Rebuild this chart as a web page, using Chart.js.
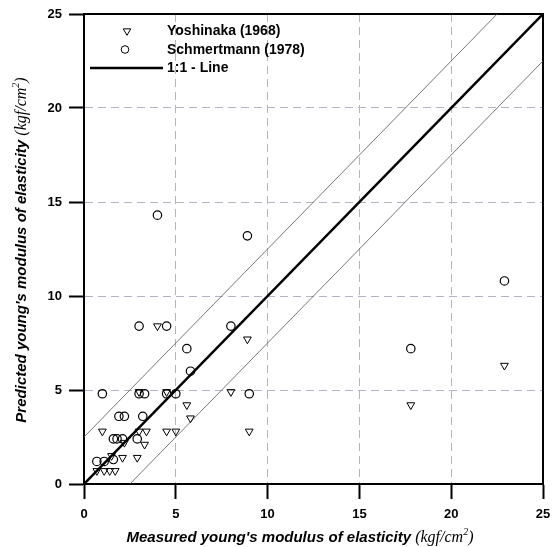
<!DOCTYPE html>
<html>
<head>
<meta charset="utf-8">
<script src="https://cdn.jsdelivr.net/npm/chart.js@4.4.0/dist/chart.umd.min.js"></script>
<style>
    body { margin: 0; background: #fff; }
    #wrap { width: 553px; height: 547px; }
</style>
</head>
<body>
<div id="wrap"><canvas id="chart" width="553" height="547"></canvas></div>
<script>
// Yoshinaka (1968) - triângulos
const yoshinakaMeasured  = [0.7, 1.1, 1.4, 1.7, 1.5, 2.1, 2.9, 2.2, 3.3, 1.0, 3.0, 3.4, 4.5, 5.0, 9.0, 5.8, 5.6, 3.0, 4.5, 8.0, 17.8, 22.9, 8.9, 4.0];
const yoshinakaPredicted = [0.7, 0.7, 0.7, 0.7, 1.5, 1.4, 1.4, 2.2, 2.1, 2.8, 2.8, 2.8, 2.8, 2.8, 2.8, 3.5, 4.2, 4.9, 4.9, 4.9, 4.2, 6.3, 7.7, 8.4];

// Schmertmann (1978) - círculos
const schmertmannMeasured  = [0.7, 1.1, 1.6, 1.6, 1.8, 2.1, 2.9, 1.9, 2.2, 3.2, 1.0, 3.0, 3.3, 4.5, 5.0, 9.0, 5.8, 5.6, 3.0, 4.5, 8.0, 8.9, 4.0, 17.8, 22.9];
const schmertmannPredicted = [1.2, 1.2, 1.3, 2.4, 2.4, 2.4, 2.4, 3.6, 3.6, 3.6, 4.8, 4.8, 4.8, 4.8, 4.8, 4.8, 6.0, 7.2, 8.4, 8.4, 8.4, 13.2, 14.3, 7.2, 10.8];

// Linha 1:1 e limites
const lineX  = [0, 25];
const lineY  = [0, 25];
const upperX = [0, 22.5];
const upperY = [2.5, 25];
const lowerX = [2.5, 25];
const lowerY = [0, 22.5];

const tickValues = [0, 5, 10, 15, 20, 25];

function toPoints(xs, ys) {
    return xs.map((x, i) => ({ x: x, y: ys[i] }));
}

// Desenhar um texto com várias fontes
function drawParts(ctx, parts, cx, cy) {
    let total = 0;
    parts.forEach(p => { ctx.font = p.font; total += ctx.measureText(p.text).width; });
    let x = cx - total / 2;
    ctx.textBaseline = 'middle';
    ctx.textAlign = 'left';
    parts.forEach(p => {
        ctx.font = p.font;
        ctx.fillText(p.text, x, cy + (p.dy || 0));
        x += ctx.measureText(p.text).width;
    });
}

const titleParts = (label) => [
    { text: label + ' ', font: 'italic bold 15px "Liberation Sans", Arial' },
    { text: '(kgf/cm', font: 'italic 16px "Liberation Serif", serif' },
    { text: '2', font: 'italic 10px "Liberation Serif", serif', dy: -6 },
    { text: ')', font: 'italic 16px "Liberation Serif", serif' }
];

const decorPlugin = {
    id: 'decor',
    beforeDatasetsDraw(chart) {
        const ctx = chart.ctx;
        const a = chart.chartArea;
        ctx.save();
        ctx.strokeStyle = '#000';
        ctx.lineWidth = 2;
        ctx.strokeRect(a.left, a.top, a.right - a.left, a.bottom - a.top);
        ctx.restore();
    },
    afterDraw(chart) {
        const ctx = chart.ctx;
        ctx.save();
        ctx.fillStyle = '#000';
        ctx.strokeStyle = '#000';

        // Títulos dos eixos
        drawParts(ctx, titleParts("Measured young's modulus of elasticity"), 300, 538);
        ctx.save();
        ctx.translate(22, 250);
        ctx.rotate(-Math.PI / 2);
        drawParts(ctx, titleParts("Predicted young's modulus of elasticity"), 0, 0);
        ctx.restore();

        // Legenda
        ctx.font = 'bold 14px "Liberation Sans", Arial';
        ctx.textBaseline = 'middle';
        ctx.textAlign = 'left';

        // triângulo
        ctx.lineWidth = 1;
        ctx.beginPath();
        const tx = 127, ty = 31, r = 4.3;
        ctx.moveTo(tx - r * 0.87, ty - r * 0.5);
        ctx.lineTo(tx + r * 0.87, ty - r * 0.5);
        ctx.lineTo(tx, ty + r);
        ctx.closePath();
        ctx.stroke();
        ctx.fillText('Yoshinaka (1968)', 167, 31);

        // círculo
        ctx.beginPath();
        ctx.arc(125, 49.5, 3.8, 0, Math.PI * 2);
        ctx.stroke();
        ctx.fillText('Schmertmann (1978)', 167, 50);

        // linha
        ctx.lineWidth = 2.5;
        ctx.beginPath();
        ctx.moveTo(90, 68);
        ctx.lineTo(163, 68);
        ctx.stroke();
        ctx.fillText('1:1 - Line', 167, 68);

        ctx.restore();
    }
};

function axisOptions() {
    return {
        type: 'linear',
        min: 0,
        max: 25,
        afterBuildTicks: (scale) => { scale.ticks = tickValues.map(v => ({ value: v })); },
        grid: {
            color: '#b4b4c4',
            lineWidth: 1,
            tickLength: 15,
            tickColor: '#000',
            tickWidth: 2
        },
        border: {
            color: '#000',
            width: 2,
            dash: [8, 5]
        },
        ticks: {
            color: '#000',
            padding: 8,
            font: { family: '"Liberation Sans", Arial', size: 13, weight: 'bold' }
        }
    };
}

const xAxis = axisOptions();
xAxis.position = 'bottom';
xAxis.afterFit = (scale) => {
    scale.height = 63;
    scale.paddingLeft = 0;
    scale.paddingRight = 0;
};

const yAxis = axisOptions();
yAxis.position = 'left';
yAxis.ticks.padding = 7;
yAxis.afterFit = (scale) => {
    scale.width = 84;
    scale.paddingTop = 0;
    scale.paddingBottom = 0;
};

const ctx = document.getElementById('chart').getContext('2d');
new Chart(ctx, {
    type: 'scatter',
    data: {
        datasets: [
            {
                label: 'Yoshinaka (1968)',
                data: toPoints(yoshinakaMeasured, yoshinakaPredicted),
                pointStyle: 'triangle',
                rotation: 180,
                radius: 4.5,
                borderColor: '#000',
                backgroundColor: 'rgba(255,255,255,0)',
                borderWidth: 1
            },
            {
                label: 'Schmertmann (1978)',
                data: toPoints(schmertmannMeasured, schmertmannPredicted),
                pointStyle: 'circle',
                radius: 4.2,
                borderColor: '#000',
                backgroundColor: 'rgba(255,255,255,0)',
                borderWidth: 1.2
            },
            {
                label: '1:1 - Line',
                data: toPoints(lineX, lineY),
                showLine: true,
                pointRadius: 0,
                borderColor: '#000',
                borderWidth: 2.5
            },
            {
                label: 'upper',
                data: toPoints(upperX, upperY),
                showLine: true,
                pointRadius: 0,
                borderColor: '#555',
                borderWidth: 0.8
            },
            {
                label: 'lower',
                data: toPoints(lowerX, lowerY),
                showLine: true,
                pointRadius: 0,
                borderColor: '#555',
                borderWidth: 0.8
            }
        ]
    },
    options: {
        responsive: false,
        animation: false,
        layout: { padding: { top: 14, right: 10, left: 0, bottom: 0 } },
        scales: { x: xAxis, y: yAxis },
        plugins: {
            legend: { display: false },
            tooltip: { enabled: false }
        }
    },
    plugins: [decorPlugin]
});
</script>
</body>
</html>
